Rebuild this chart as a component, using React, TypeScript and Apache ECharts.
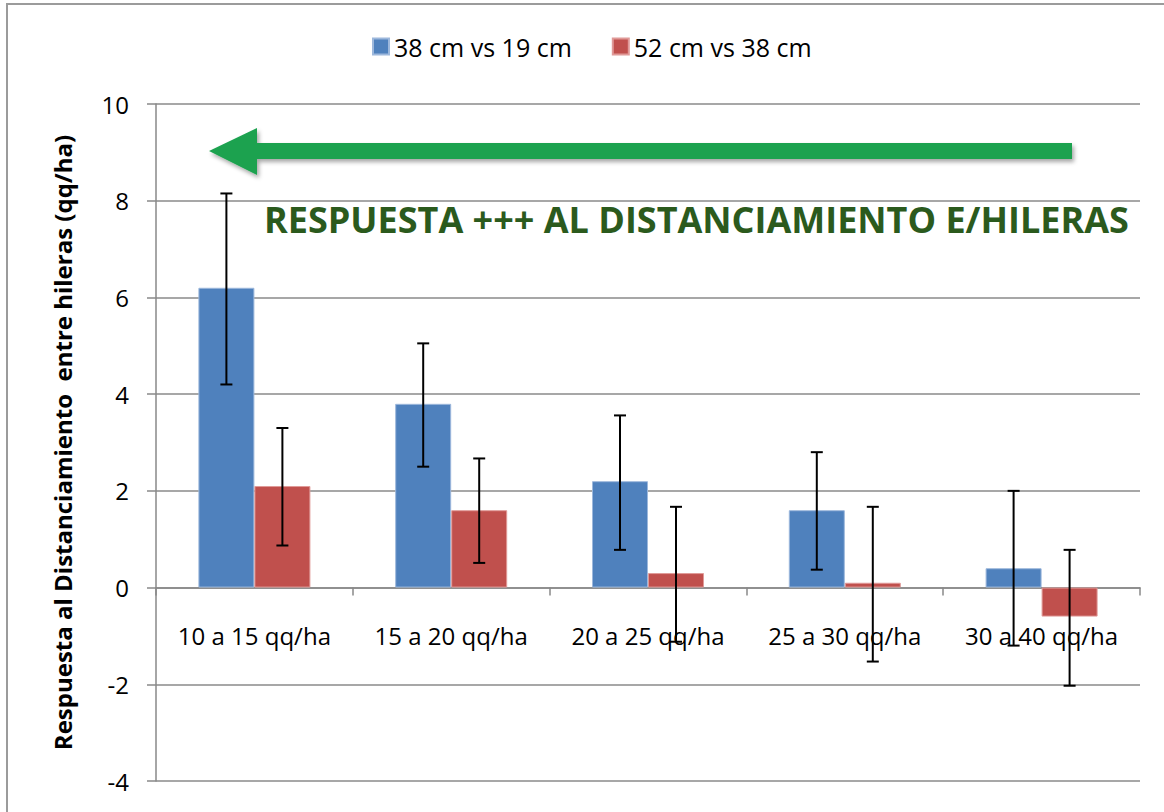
import React, { useEffect, useRef } from "react";
import * as echarts from "echarts";

const categories = ["10 a 15 qq/ha", "15 a 20 qq/ha", "20 a 25 qq/ha", "25 a 30 qq/ha", "30 a 40 qq/ha"];
const seriesNames = ["38 cm vs 19 cm", "52 cm vs 38 cm"];
const blueValues = [6.2, 3.8, 2.2, 1.6, 0.4];
const redValues = [2.1, 1.6, 0.3, 0.1, -0.6];
const blueLow = [4.2, 2.5, 0.78, 0.37, -1.2];
const blueHigh = [8.15, 5.05, 3.56, 2.8, 2.0];
const redLow = [0.87, 0.51, -1.12, -1.53, -2.03];
const redHigh = [3.3, 2.67, 1.67, 1.67, 0.78];
const yTicks = { min: -4, max: 10, interval: 2 };
const yAxisTitle = "Respuesta al Distanciamiento  entre hileras (qq/ha)";
const annotation = "RESPUESTA +++ AL DISTANCIAMIENTO E/HILERAS";

const FONT = '"Open Sans", "Noto Sans", sans-serif';
const BLUE = "#4F81BD";
const RED = "#C0504D";
const BAR_W = 56;
const GRID = { left: 156, right: 24, top: 104, bottom: 31 };
const H = 812;

function errorSeries(low: number[], high: number[], offset: number) {
  return {
    type: "custom",
    silent: true,
    z: 5,
    data: low.map((l, i) => [i, l, high[i]]),
    encode: { x: 0, y: [1, 2] },
    renderItem: (params: any, api: any) => {
      const lo = api.coord([api.value(0), api.value(1)]);
      const hi = api.coord([api.value(0), api.value(2)]);
      const x = lo[0] + offset;
      const cap = 6;
      const style = { stroke: "#000", lineWidth: 2 };
      return {
        type: "group",
        children: [
          { type: "line", shape: { x1: x, y1: lo[1], x2: x, y2: hi[1] }, style },
          { type: "line", shape: { x1: x - cap, y1: lo[1], x2: x + cap, y2: lo[1] }, style },
          { type: "line", shape: { x1: x - cap, y1: hi[1], x2: x + cap, y2: hi[1] }, style },
        ],
      };
    },
  };
}

export default function App() {
  const ref = useRef<HTMLDivElement>(null);
  useEffect(() => {
    document.body.style.margin = "0";
    const chart = echarts.init(ref.current!, null, { renderer: "svg" });
    // distance in px from grid bottom to the zero line (derived from the y range)
    const plotH = H - GRID.top - GRID.bottom;
    const zeroOffset = (plotH * (0 - yTicks.min)) / (yTicks.max - yTicks.min);
    chart.setOption({
      animation: false,
      backgroundColor: "#fff",
      textStyle: { fontFamily: FONT },
      grid: { ...GRID, outerBoundsMode: "none", containLabel: false },
      legend: {
        left: 367,
        top: 29,
        icon: "rect",
        itemWidth: 16,
        itemHeight: 16,
        itemGap: 40,
        data: seriesNames,
        textStyle: { fontFamily: FONT, fontSize: 25, color: "#000" },
      },
      xAxis: {
        type: "category",
        data: categories,
        position: "bottom",
        offset: -zeroOffset,
        axisLine: { onZero: false, lineStyle: { color: "#888", width: 1.5 } },
        axisTick: { show: true, length: 8, lineStyle: { color: "#888", width: 1.5 } },
        axisLabel: { interval: 0, margin: 36, fontFamily: FONT, fontSize: 24, color: "#000" },
        splitLine: { show: false },
      },
      yAxis: {
        type: "value",
        min: yTicks.min,
        max: yTicks.max,
        interval: yTicks.interval,
        name: yAxisTitle,
        nameLocation: "middle",
        nameGap: 82,
        nameTextStyle: { fontFamily: FONT, fontSize: 24, fontWeight: "bold", color: "#000" },
        axisLine: { show: true, lineStyle: { color: "#888", width: 1.5 } },
        axisTick: { show: true, length: 9, lineStyle: { color: "#888", width: 1.5 } },
        axisLabel: { margin: 27, fontFamily: FONT, fontSize: 24, color: "#000" },
        splitLine: { show: true, lineStyle: { color: "#8a8a8a", width: 1.5 } },
      },
      series: [
        {
          name: seriesNames[0],
          type: "bar",
          data: blueValues,
          barWidth: BAR_W,
          barGap: "0%",
          itemStyle: { color: BLUE, borderColor: "#9db8dc", borderWidth: 1 },
        },
        {
          name: seriesNames[1],
          type: "bar",
          data: redValues,
          barWidth: BAR_W,
          barGap: "0%",
          itemStyle: { color: RED, borderColor: "#e09a98", borderWidth: 1 },
        },
        errorSeries(blueLow, blueHigh, -BAR_W / 2),
        errorSeries(redLow, redHigh, BAR_W / 2),
      ],
      graphic: [
        {
          type: "rect",
          z: -10,
          shape: { x: 7, y: 4, width: 1170, height: 820 },
          style: { fill: "none", stroke: "#9b9b9b", lineWidth: 2 },
        },
        {
          type: "polygon",
          z: 10,
          shape: {
            points: [
              [209, 151],
              [257, 128],
              [257, 143],
              [1072, 143],
              [1072, 159],
              [257, 159],
              [257, 175],
            ],
          },
          style: {
            fill: "#1BA24F",
            shadowBlur: 4,
            shadowOffsetX: 2,
            shadowOffsetY: 3,
            shadowColor: "rgba(0,0,0,0.35)",
          },
        },
        {
          type: "text",
          z: 10,
          x: 264,
          y: 219,
          style: {
            text: annotation,
            fill: "#2B5A1D",
            fontFamily: FONT,
            fontWeight: "bold",
            fontSize: 36,
            align: "left",
            verticalAlign: "middle",
          },
        },
      ],
    });
    return () => chart.dispose();
  }, []);
  return <div ref={ref} style={{ position: "absolute", left: 0, top: 0, width: 1164, height: H }} />;
}
